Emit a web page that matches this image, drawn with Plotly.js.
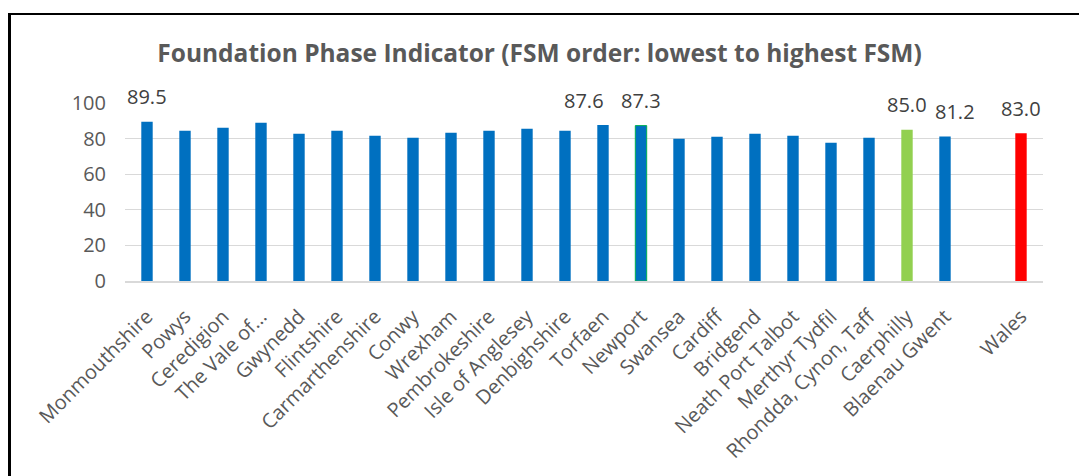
<!DOCTYPE html>
<html>
<head>
<meta charset="utf-8">
<script src="https://cdn.plot.ly/plotly-3.0.1.min.js"></script>
<style>
  html, body { margin: 0; padding: 0; background: #fff; }
  #wrap { position: relative; width: 1079px; height: 476px; overflow: hidden; }
  #chart { position: absolute; left: 0; top: 0; width: 1079px; height: 476px; }
  #frame { position: absolute; left: 8px; top: 13px; width: 1200px; height: 600px;
           border-left: 3px solid #000; border-top: 2px solid #000; pointer-events: none; }
</style>
</head>
<body>
<div id="wrap">
  <div id="chart"></div>
  <div id="frame"></div>
</div>
<script>
const categories = ["Monmouthshire", "Powys", "Ceredigion", "The Vale of...", "Gwynedd", "Flintshire",
  "Carmarthenshire", "Conwy", "Wrexham", "Pembrokeshire", "Isle of Anglesey", "Denbighshire",
  "Torfaen", "Newport", "Swansea", "Cardiff", "Bridgend", "Neath Port Talbot", "Merthyr Tydfil",
  "Rhondda, Cynon, Taff", "Caerphilly", "Blaenau Gwent", " ", "Wales"];
const values = [89.5, 84.4, 86.1, 88.9, 82.7, 84.4, 81.6, 80.5, 83.3, 84.4, 85.5, 84.4,
  87.6, 87.3, 79.9, 81.0, 82.7, 81.6, 77.7, 80.5, 85.0, 81.2, null, 83.0];
const labelled = ["Monmouthshire", "Torfaen", "Newport", "Caerphilly", "Blaenau Gwent", "Wales"];

const blue = "#0070C0", green = "#92D050", red = "#FF0000", outlineGreen = "#00B050";
const colors = categories.map(c => c === "Caerphilly" ? green : (c === "Wales" ? red : blue));
const lineColors = categories.map(c => c === "Newport" ? outlineGreen : "rgba(0,0,0,0)");
const lineWidths = categories.map(c => c === "Newport" ? 1 : 0);

const font = "'Open Sans', 'DejaVu Sans', sans-serif";
const grey = "#595959";

function labelShift(c) {
  if (c === "Torfaen") return -19;
  if (c === "Blaenau Gwent") return 10;
  return 0;
}

const annotations = labelled.map(c => {
  const i = categories.indexOf(c);
  return {
    x: c, y: values[i], xref: "x", yref: "y",
    text: values[i].toFixed(1), showarrow: false,
    yanchor: "middle", yshift: 25, xshift: labelShift(c),
    font: { family: font, size: 20, color: "#404040" }
  };
});

const trace = {
  type: "bar", x: categories, y: values,
  marker: { color: colors, line: { color: lineColors, width: lineWidths } },
  hoverinfo: "x+y"
};

const layout = {
  width: 1079, height: 476,
  margin: { l: 125, r: 36, t: 103, b: 195 },
  paper_bgcolor: "#fff", plot_bgcolor: "#fff",
  bargap: 0.7,
  showlegend: false,
  title: {
    text: "<b>Foundation Phase Indicator (FSM order: lowest to highest FSM)</b>",
    x: 0.5, xref: "container", xanchor: "center",
    y: 1 - 53 / 476, yref: "container", yanchor: "middle",
    font: { family: font, size: 24.5, color: grey }
  },
  xaxis: {
    type: "category", categoryorder: "array", categoryarray: categories,
    tickangle: -45, ticks: "", showgrid: false,
    showline: true, linecolor: "#d9d9d9", linewidth: 2,
    tickfont: { family: font, size: 20, color: grey },
    ticklabelstandoff: 14, fixedrange: true
  },
  yaxis: {
    range: [0, 100], tickvals: [0, 20, 40, 60, 80, 100],
    showgrid: true, gridcolor: "#d9d9d9", gridwidth: 1,
    zeroline: false, showline: false, ticks: "",
    tickfont: { family: font, size: 20, color: grey },
    ticklabelstandoff: 18, fixedrange: true
  },
  annotations: annotations
};

Plotly.newPlot("chart", [trace], layout, { displayModeBar: false, staticPlot: true });
</script>
</body>
</html>
